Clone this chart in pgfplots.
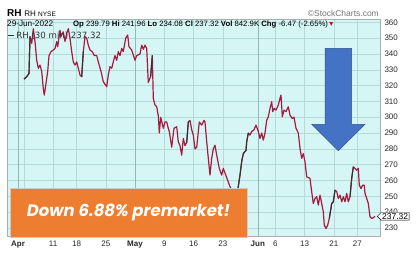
\documentclass[border=0pt]{standalone}
\usepackage{fontspec}
\setmainfont{Liberation Sans}
\newfontfamily\dejavu{DejaVu Sans}
\newfontfamily\popfont{Poppins}
\usepackage{pgfplots}
\usepackage{pgfplotstable}
\pgfplotsset{compat=1.18}
\usetikzlibrary{shapes.symbols}

\definecolor{bgc}{HTML}{D6F6F6}
\definecolor{gridc}{HTML}{B4DADA}
\definecolor{monthc}{HTML}{93B8B8}
\definecolor{linec}{HTML}{A8193F}
\definecolor{orangec}{HTML}{ED7D31}
\definecolor{bluec}{HTML}{4472C4}
\definecolor{bluedark}{HTML}{2F528F}

% px = horizontal position on the time axis (trading days, ~5.85 units per day, Apr 1 at 18)
\pgfplotstableread{
px price
24 324.1
26.7 325.6
29 327.7
30 351
31.7 346.7
33.3 356
35 348
36.7 336
38.3 331
40 333
41.7 329
43.3 318
44.3 314
45.7 320
47.7 329
49 339
51 341.5
53.3 342.5
55 343.5
56.7 347.8
57.7 344.6
60 355
61 351
63.3 354
65 348
66.7 353
68.3 356
70 350
71.7 341.5
73.3 335
75 333
76.7 335
78.3 331
80 326.7
81.7 325.6
83.3 341.5
85 351
86.7 350
88.3 345.6
90 342.5
92.3 341.5
94.3 339
96.7 339
98.3 335
101 329
103.3 322.5
106.7 319.3
108.3 326.7
110 332
111.7 331
113.3 335
115 339
116.7 336
118.3 341.5
120 339
121.7 343.5
123.3 341.5
125.7 350
127.7 352
129 344.6
131.7 342.5
135 336
136.7 339
140 340
141.7 345.6
143.3 343
145 345.6
146.7 343.5
148.3 322
150.7 326
152.3 339
153.3 312
155 307.7
156.7 306.6
158.3 301
159.3 290
160.7 300
163.3 293
165 297
166.7 297
168.3 293
169.3 291
171.7 281
174 293
176.7 294
178.3 284.5
180 282
181.7 276
183.3 286.6
185 282
186.7 284
188.3 297
190 298
191.7 292
193.3 288.7
195 280
196.7 281
199.3 297
201.7 295
204 298
205 297
206.7 284.5
208.3 274
210 263.4
211.7 274
213.3 280
215 282.3
216.7 276
219.3 267.6
221.7 263.4
223.3 267.6
226 263
230 256
234 252
238 255
240 263.4
241.7 272
243.3 277
246 279
246.7 284.5
248.3 290
250 288.7
251.7 291
254 292
256 295
258.3 291
260 286.6
261.7 290
263.3 285.5
265 290
266.7 298
268.3 300.3
270 305.6
271.7 309.8
272.7 303.5
274 305.6
276 304.5
278.3 307.7
280 312
281 314
282.3 300.3
284 304.5
286 303.5
288.3 306.6
290 301.3
292.3 299.2
294 300
296 293
298.3 290
300 280.3
301.7 274
303.3 277
305 271.8
306.7 262.3
310 261.3
311.7 252.8
313.3 245.4
315 248.6
316.7 249.7
318.3 244.4
320 250.7
321.7 245.4
323.3 240.2
324.3 231.7
326 229.6
327.7 231.7
329.3 236
331.7 245.4
333.3 246.5
335 253.9
336.7 253
338.3 248.6
340 250.7
341.7 246.5
343.3 249.7
345 246.5
346.7 251.8
348.3 246.5
350 249.7
351.7 261.3
353.3 268.6
355 267.6
356.7 266.5
358.3 267.6
359.3 257
361 254.9
362.7 257
364.3 257
365 251.8
366.7 248.6
368.3 245.4
370 237
371.7 236
373.3 236.4
375 237.32
}\rhdata

\begin{document}
\begin{tikzpicture}[x=1pt,y=1pt]
\path[use as bounding box] (0,0) rectangle (419,268);
\begin{axis}[
  at={(7,20)}, anchor=south west,
  scale only axis, width=373pt, height=217pt,
  xmin=7, xmax=380, ymin=224.6, ymax=361.9,
  axis background/.style={fill=bgc},
  axis line style={draw=gray!65},
  ytick={230,240,...,360},
  yticklabel pos=right,
  xmajorgrids, ymajorgrids,
  grid style={draw=gridc, line width=0.5pt},
  xtick={18,23.85,53.1,76.5,105.75,135,164.25,193.5,222.75,257.85,275.4,304.65,333.9,357.3},
  xticklabels={\textbf{Apr},,11,18,25,\textbf{May},9,16,23,\textbf{Jun},6,13,21,27},
  major tick length=0pt,
  tick label style={font=\fontsize{8}{9}\selectfont, text=black!85},
  /pgf/number format/assume math mode=true,
  /pgf/number format/1000 sep={},
  yticklabel style={xshift=1pt},
  xticklabel style={yshift=-1pt},
  clip=false,
]
\draw[monthc, line width=0.6pt] (axis cs:18,224.6) -- (axis cs:18,361.9);
\draw[monthc, line width=0.6pt] (axis cs:135,224.6) -- (axis cs:135,361.9);
\draw[monthc, line width=0.6pt] (axis cs:257.85,224.6) -- (axis cs:257.85,361.9);
\addplot[linec, line width=1.2pt, line join=round] table[x=px, y=price] {\rhdata};
\addplot[black!80, line width=1.1pt, line join=round] coordinates {(24,324.1) (26.7,325.6) (29,327.7) (30,351)};
\addplot[black!80, line width=1.1pt, line join=round] coordinates {(81.7,325.6) (83.3,341.5)};
\addplot[black!80, line width=1.1pt, line join=round] coordinates {(150.7,326) (152.3,339)};
\addplot[black!80, line width=1.1pt, line join=round] coordinates {(186.7,284) (188.3,297)};
\addplot[black!80, line width=1.1pt, line join=round] coordinates {(238,255) (240,263.4) (241.7,272) (243.3,277) (246,279) (246.7,284.5) (248.3,290)};
\addplot[black!80, line width=1.1pt, line join=round] coordinates {(329.3,236) (331.7,245.4) (333.3,246.5) (335,253.9)};
\addplot[black!80, line width=1.1pt, line join=round] coordinates {(350,249.7) (351.7,261.3) (353.3,268.6)};
\node[signal, signal to=west, draw=black, fill=white, inner xsep=1pt, inner ysep=0.8pt,
      font=\fontsize{8.5}{9}\selectfont, anchor=west] at (axis cs:377,237.32) {237.32};
\end{axis}

% header (y measured from the bottom: 268 - pixel row)
\node[anchor=base west, inner sep=0pt] at (7,251) {\fontsize{10}{11}\selectfont\textbf{RH} \fontsize{8}{9}\selectfont RH \fontsize{6.5}{7}\selectfont NYSE};
\node[anchor=base east, inner sep=0pt, text=black!55] at (379,251) {\fontsize{8.5}{9}\selectfont \textcopyright StockCharts.com};
\node[anchor=base west, inner sep=0pt] at (7,241) {\fontsize{8.2}{9}\selectfont 29-Jun-2022};
\node[anchor=base west, inner sep=0pt] at (73,241) {\fontsize{7.75}{8}\selectfont \textbf{Op} 239.79 \textbf{Hi} 241.96 \textbf{Lo} 234.08 \textbf{Cl} 237.32 \textbf{Vol} 842.9K \textbf{Chg} -6.47 (-2.65\%)\,{\dejavu\color{red!80!black}▾}};
% legend inside plot
\node[anchor=base west, inner sep=0pt, text=black!80] at (7.5,229.5) {\dejavu\fontsize{8.6}{9}\selectfont \rule[2.4pt]{6pt}{1.5pt} RH (30 min) 237.32};

% orange callout
\fill[orangec] (10,31) rectangle (247,80);
\draw[gray!40, line width=0.6pt] (10,31) rectangle (247,80);
\node[text=white, inner sep=0pt] at (128.5,55.5) {\popfont\bfseries\itshape\fontsize{16.5}{18}\selectfont Down 6.88\% premarket!};

% blue arrow
\filldraw[fill=bluec, draw=bluedark, line width=0.5pt]
  (325,219.7) -- (351.7,219.7) -- (351.7,143.7) -- (365,143.7) -- (338.3,117.3) -- (311.7,143.7) -- (325,143.7) -- cycle;
\end{tikzpicture}
\end{document}
